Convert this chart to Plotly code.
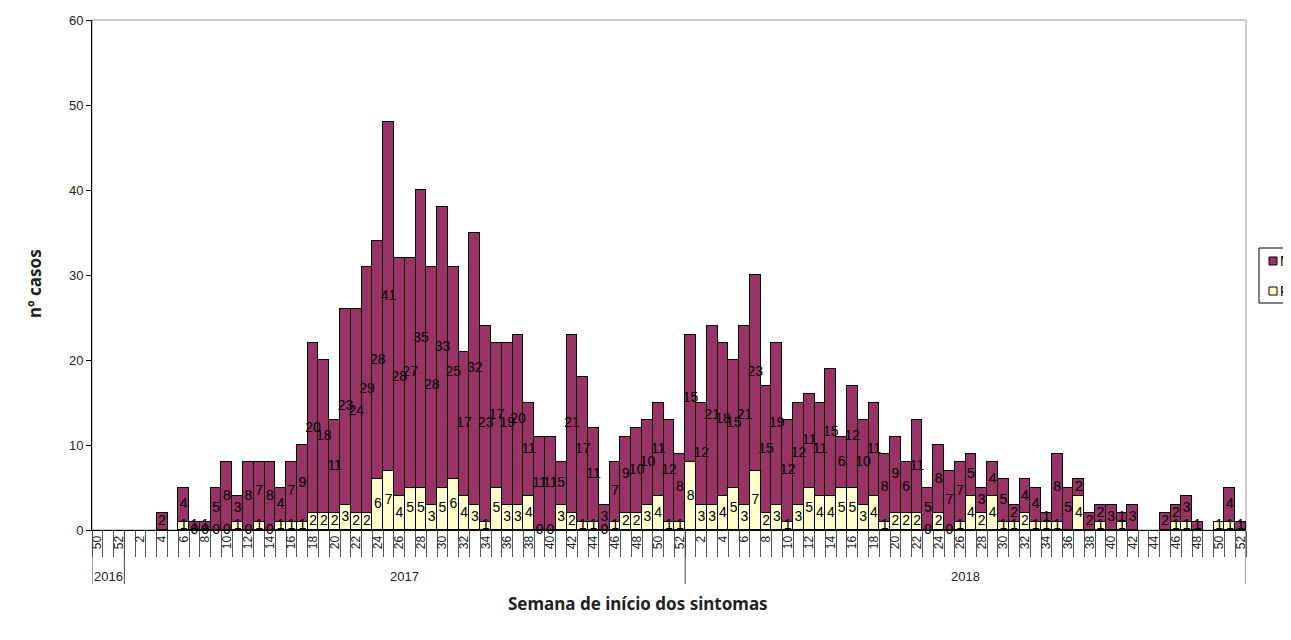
import plotly.graph_objects as go

# ---- data ----
years = ["2016"] * 3 + ["2017"] * 52 + ["2018"] * 52
weeks = [50, 51, 52] + list(range(1, 53)) + list(range(1, 53))

F = [None, None, None,
     # 2017 w1..w52
     None, None, None, None, None, 1, 0, 0, 0, 0,
     1, 0, 1, 0, 1, 1, 1, 2, 2, 2,
     3, 2, 2, 6, 7, 4, 5, 5, 3, 5,
     6, 4, 3, 1, 5, 3, 3, 4, 0, 0,
     3, 2, 1, 1, 0, 1, 2, 2, 3, 4,
     1, 1,
     # 2018 w1..w52
     8, 3, 3, 4, 5, 3, 7, 2, 3, 1,
     3, 5, 4, 4, 5, 5, 3, 4, 1, 2,
     2, 2, 0, 2, 0, 1, 4, 2, 4, 1,
     1, 2, 1, 1, 1, None, 4, None, 1, None,
     1, None, None, None, None, 1, 1, None, None, 1,
     1, None]

M = [None, None, None,
     # 2017 w1..w52
     None, None, None, 2, None, 4, 1, 1, 5, 8,
     3, 8, 7, 8, 4, 7, 9, 20, 18, 11,
     23, 24, 29, 28, 41, 28, 27, 35, 28, 33,
     25, 17, 32, 23, 17, 19, 20, 11, 11, 11,
     5, 21, 17, 11, 3, 7, 9, 10, 10, 11,
     12, 8,
     # 2018 w1..w52
     15, 12, 21, 18, 15, 21, 23, 15, 19, 12,
     12, 11, 11, 15, 6, 12, 10, 11, 8, 9,
     6, 11, 5, 8, 7, 7, 5, 3, 4, 5,
     2, 4, 4, 1, 8, 5, 2, 2, 2, 3,
     1, 3, None, None, 2, 2, 3, 1, None, None,
     4, 1]

series_names = ["M", "F"]
y_ticks = [0, 10, 20, 30, 40, 50, 60]

# ---- build ----
n = len(weeks)
idx = list(range(n))
tickvals = [i for i in idx if weeks[i] % 2 == 0]
ticktext = [str(weeks[i]) for i in tickvals]

PURPLE = "#993366"
YELLOW = "#FFFFCC"
FONT = "Liberation Sans, Arial, sans-serif"
TITLE_FONT = "Noto Sans, Open Sans, sans-serif"
COLORS = {"M": PURPLE, "F": YELLOW}

W, H = 1291, 640
OFF = 8                                # page body offset
SL, SR, ST, SB = 92, 1246, 20, 530     # plot area on screen


def px_x(p):
    return (p - SL) / (SR - SL)


def px_y(p):
    return (SB - p) / (SB - ST)


fig = go.Figure()
fig.add_bar(x=idx, y=F, name="F", showlegend=False,
            marker=dict(color=YELLOW, line=dict(color="black", width=1)),
            hoverinfo="skip")
fig.add_bar(x=idx, y=M, name="M", showlegend=False,
            marker=dict(color=PURPLE, line=dict(color="black", width=1)),
            hoverinfo="skip")

tx, ty, tt = [], [], []
for i in idx:
    f, m = F[i], M[i]
    if f is not None:
        tx.append(i); ty.append(f / 2); tt.append(str(f))
    if m is not None:
        tx.append(i); ty.append((f or 0) + m / 2); tt.append(str(m))
fig.add_scatter(x=tx, y=ty, text=tt, mode="text", showlegend=False,
                textfont=dict(family=FONT, size=14, color="black"),
                cliponaxis=False, hoverinfo="skip")

# plot-area frame
shapes = [dict(type="rect", xref="paper", yref="paper", x0=0, x1=1, y0=0, y1=1,
               line=dict(color="#9a9a9a", width=1), layer="below")]
annotations = []

# year groups: dividers and labels
bounds = [0] + [i for i in range(1, n) if years[i] != years[i - 1]] + [n]
for b in bounds:
    shapes.append(dict(type="line", xref="x", yref="paper", x0=b - 0.5, x1=b - 0.5,
                       y0=0, y1=px_y(584), line=dict(color="#444", width=1)))
for a, b in zip(bounds[:-1], bounds[1:]):
    annotations.append(dict(x=(a + b - 1) / 2, xref="x", y=px_y(576), yref="paper",
                            text=years[a], showarrow=False,
                            font=dict(family=FONT, size=13, color="#222"),
                            yanchor="middle"))

# axis titles
annotations.append(dict(text="<b>Semana de início dos sintomas</b>", x=px_x(638),
                        xref="paper", y=px_y(603), yref="paper", showarrow=False,
                        font=dict(family=TITLE_FONT, size=17, color="#222"),
                        xanchor="center", yanchor="middle"))
annotations.append(dict(text="<b>nº casos</b>", x=px_x(35), xref="paper",
                        y=px_y(284), yref="paper", showarrow=False, textangle=-90,
                        font=dict(family=TITLE_FONT, size=17, color="#222"),
                        xanchor="center", yanchor="middle"))

# legend (box partly cut by the right edge, as in the original)
shapes.append(dict(type="rect", xref="paper", yref="paper",
                   x0=px_x(1259), x1=px_x(1310), y0=px_y(303), y1=px_y(248),
                   line=dict(color="black", width=1), fillcolor="white"))
for k, name in enumerate(series_names):
    cy = 261 + 30 * k
    shapes.append(dict(type="rect", xref="paper", yref="paper",
                       x0=px_x(1269), x1=px_x(1277), y0=px_y(cy + 4), y1=px_y(cy - 4),
                       line=dict(color="black", width=1), fillcolor=COLORS[name]))
    annotations.append(dict(text=name, x=px_x(1278), xref="paper", y=px_y(cy),
                            yref="paper", showarrow=False, xanchor="left",
                            yanchor="middle",
                            font=dict(family=FONT, size=14, color="black")))

fig.update_layout(
    width=W, height=H,
    margin=dict(l=SL - OFF, r=W - (SR - OFF), t=ST - OFF, b=H - (SB - OFF)),
    paper_bgcolor="white", plot_bgcolor="white",
    barmode="stack", bargap=0, showlegend=False,
    shapes=shapes, annotations=annotations,
    xaxis=dict(range=[-0.5, n - 0.5], tickmode="array", tickvals=tickvals,
               ticktext=ticktext, tickangle=-90, ticks="", showgrid=False,
               zeroline=False, showline=True, linecolor="black", linewidth=1,
               automargin=False,
               tickfont=dict(family=FONT, size=12, color="#222"),
               minor=dict(tickmode="array", tickvals=[i - 0.5 for i in range(n + 1)],
                          ticks="outside", ticklen=26, tickcolor="#555", tickwidth=1,
                          showgrid=False)),
    yaxis=dict(range=[0, 60], tickmode="array", tickvals=y_ticks, ticks="outside",
               ticklen=5, tickcolor="black", showgrid=False, zeroline=False,
               showline=True, linecolor="black", linewidth=1, automargin=False,
               tickfont=dict(family=FONT, size=13, color="#222")),
)

fig.write_html("out.html")
